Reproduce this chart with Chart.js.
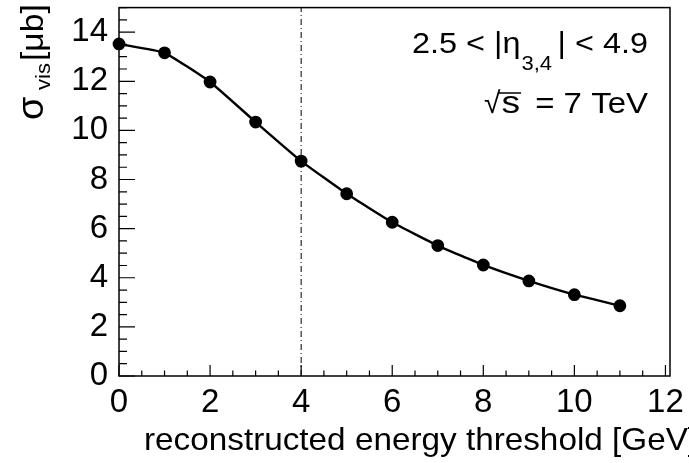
<!DOCTYPE html>
<html>
<head>
<meta charset="utf-8">
<script src="https://cdn.jsdelivr.net/npm/chart.js@4"></script>
<style>
  html, body { margin: 0; padding: 0; background: #fff; }
  canvas { display: block; }
</style>
</head>
<body>
<canvas id="sigmaChart" width="689" height="463"></canvas>
<script>
// Werte
const energyThreshold = [0, 1, 2, 3, 4, 5, 6, 7, 8, 9, 10, 11];
const sigmaVis = [13.52, 13.16, 11.97, 10.34, 8.75, 7.42, 6.26, 5.31, 4.52, 3.87, 3.31, 2.86];
const xTicks = [0, 2, 4, 6, 8, 10, 12];
const yTicks = [0, 2, 4, 6, 8, 10, 12, 14];
const cutEnergy = 4;

const FONT = '"Liberation Sans", Arial, Helvetica, sans-serif';

// ein Textstück zeichnen, horizontal etwas gestreckt (ROOT-Schrift ist breiter)
function put(ctx, txt, size, x, y, sx, align) {
    ctx.save();
    ctx.font = size + 'px ' + FONT;
    const w = ctx.measureText(txt).width * sx;
    const x0 = align === 'right' ? x - w : x;
    ctx.translate(x0, y);
    ctx.scale(sx, 1);
    ctx.textAlign = 'left';
    ctx.fillText(txt, 0, 0);
    ctx.restore();
    return x0 + w;
}

const rootFrame = {
    id: 'rootFrame',
    beforeDatasetsDraw(chart) {
        const { ctx, chartArea: a, scales: { x, y } } = chart;
        ctx.save();
        ctx.strokeStyle = '#000';
        ctx.lineWidth = 1.5;
        ctx.strokeRect(a.left, a.top, a.right - a.left, a.bottom - a.top);
        ctx.lineWidth = 1.2;
        ctx.beginPath();
        for (let v = 0; v <= x.max + 1e-9; v += 0.5) {
            const px = x.getPixelForValue(v);
            const len = (v % 2 === 0) ? 11 : 5.5;
            ctx.moveTo(px, a.bottom);
            ctx.lineTo(px, a.bottom - len);
        }
        for (let v = 0; v <= y.max + 1e-9; v += 0.5) {
            const py = y.getPixelForValue(v);
            const len = (v % 2 === 0) ? 16 : 8;
            ctx.moveTo(a.left, py);
            ctx.lineTo(a.left + len, py);
        }
        ctx.stroke();
        ctx.restore();
    },
    afterDraw(chart) {
        const { ctx } = chart;
        ctx.save();
        ctx.fillStyle = '#000';
        ctx.textBaseline = 'alphabetic';

        // x-Achsentitel (rechtsbündig am Achsenende, läuft über den Rand)
        put(ctx, 'reconstructed energy threshold [GeV]', 32, 144, 450, 1.04, 'left');

        // y-Achsentitel, gedreht
        ctx.save();
        ctx.translate(43, 121);
        ctx.rotate(-Math.PI / 2);
        put(ctx, 'σ', 36, 1, 0, 1.05, 'left');
        put(ctx, 'vis', 21, 31, 7, 1.05, 'left');
        put(ctx, '[μb]', 32, 60, 0, 1.05, 'left');
        ctx.restore();

        // Beschriftung rechts oben
        let cx = put(ctx, '2.5 < |η', 30, 412, 53, 1.08, 'left');
        put(ctx, '3,4', 21, cx + 1, 70, 1.05, 'left');
        put(ctx, '| < 4.9', 30, 648, 53, 1.08, 'right');

        cx = put(ctx, '√', 30, 484, 113, 1.0, 'left');
        const sEnd = put(ctx, 's', 31, cx + 1, 113, 1.2, 'left');
        put(ctx, '= 7 TeV', 30, 648, 113, 1.1, 'right');
        ctx.strokeStyle = '#000';
        ctx.lineWidth = 1.5;
        ctx.beginPath();
        ctx.moveTo(cx - 2, 93);
        ctx.lineTo(sEnd + 1, 93);
        ctx.stroke();
        ctx.restore();
    }
};

const ctx = document.getElementById('sigmaChart').getContext('2d');
new Chart(ctx, {
    type: 'line',
    data: {
        datasets: [
            {
                data: energyThreshold.map((e, i) => ({ x: e, y: sigmaVis[i] })),
                borderColor: '#000',
                backgroundColor: '#000',
                borderWidth: 2.4,
                pointRadius: 5.2,
                pointBackgroundColor: '#000',
                tension: 0.12,
                clip: false
            },
            {
                data: [{ x: cutEnergy, y: 0 }, { x: cutEnergy, y: 15 }],
                borderColor: '#000',
                borderWidth: 1,
                borderDash: [6, 3, 1, 3],
                pointRadius: 0,
                tension: 0
            }
        ]
    },
    options: {
        responsive: false,
        animation: false,
        devicePixelRatio: 1,
        layout: { padding: { top: 7, right: 19, left: 0, bottom: 0 } },
        plugins: {
            legend: { display: false },
            tooltip: { enabled: false }
        },
        events: [],
        scales: {
            x: {
                type: 'linear',
                min: 0,
                max: 12.1,
                afterBuildTicks: s => { s.ticks = xTicks.map(v => ({ value: v })); },
                afterFit: s => { s.height = 87; s.paddingLeft = 0; s.paddingRight = 0; },
                grid: { display: false, drawTicks: false },
                border: { display: false },
                ticks: {
                    color: '#000',
                    font: { family: FONT, size: 33 },
                    padding: 7,
                    maxRotation: 0
                }
            },
            y: {
                type: 'linear',
                min: 0,
                max: 15,
                afterBuildTicks: s => { s.ticks = yTicks.map(v => ({ value: v })); },
                afterFit: s => { s.width = 119; s.paddingTop = 0; s.paddingBottom = 0; },
                grid: { display: false, drawTicks: false },
                border: { display: false },
                ticks: {
                    color: '#000',
                    font: { family: FONT, size: 33 },
                    padding: 11
                }
            }
        }
    },
    plugins: [rootFrame]
});
</script>
</body>
</html>
